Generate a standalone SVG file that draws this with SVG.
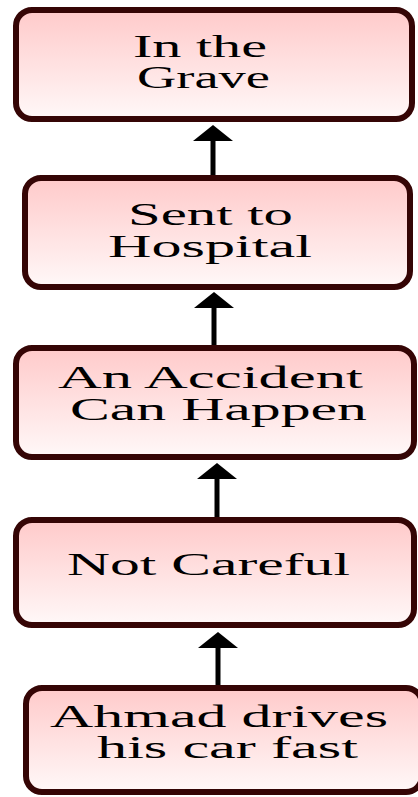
<svg xmlns="http://www.w3.org/2000/svg" width="418" height="797" viewBox="0 0 418 797">
<defs>
<linearGradient id="g" x1="0" y1="0" x2="0" y2="1">
<stop offset="0" stop-color="#ffcaca"/>
<stop offset="1" stop-color="#fff8f8"/>
</linearGradient>
<marker id="ah" markerUnits="userSpaceOnUse" markerWidth="16" markerHeight="40" viewBox="0 0 16 40" refX="1" refY="20" orient="auto">
<path d="M0,0 L16,20 L0,40 z" fill="#000"/>
</marker>
</defs>
<style>
.box{fill:url(#g);stroke:#350505;stroke-width:6}
.t{font-family:"Liberation Serif","Times New Roman",serif;font-size:31px;fill:#000}
.c{stroke:#000;stroke-width:5;fill:none;marker-end:url(#ah)}
</style>
<g id="connectors">
<path class="c" d="M213,175 V140"/>
<path class="c" d="M214,345 V307"/>
<path class="c" d="M217,517 V478"/>
<path class="c" d="M218,685 V647"/>
</g>
<g id="n1">
<rect class="box" x="16" y="10" width="396" height="109" rx="16"/>
<text class="t" x="133" y="57" textLength="134" lengthAdjust="spacingAndGlyphs">In the</text>
<text class="t" x="137" y="88" textLength="133" lengthAdjust="spacingAndGlyphs">Grave</text>
</g>
<g id="n2">
<rect class="box" x="25" y="178" width="385" height="109" rx="16"/>
<text class="t" x="128" y="225" textLength="165" lengthAdjust="spacingAndGlyphs">Sent to</text>
<text class="t" x="108" y="257" textLength="204" lengthAdjust="spacingAndGlyphs">Hospital</text>
</g>
<g id="n3">
<rect class="box" x="16" y="348" width="398" height="109" rx="16"/>
<text class="t" x="58" y="388" textLength="305" lengthAdjust="spacingAndGlyphs">An Accident</text>
<text class="t" x="70" y="420" textLength="297" lengthAdjust="spacingAndGlyphs">Can Happen</text>
</g>
<g id="n4">
<rect class="box" x="16" y="520" width="398" height="105" rx="16"/>
<text class="t" x="67" y="575" textLength="283" lengthAdjust="spacingAndGlyphs">Not Careful</text>
</g>
<g id="n5">
<rect class="box" x="26" y="688" width="396" height="104" rx="16"/>
<text class="t" x="50" y="727" textLength="338" lengthAdjust="spacingAndGlyphs">Ahmad drives</text>
<text class="t" x="97" y="758" textLength="261" lengthAdjust="spacingAndGlyphs">his car fast</text>
</g>
</svg>
